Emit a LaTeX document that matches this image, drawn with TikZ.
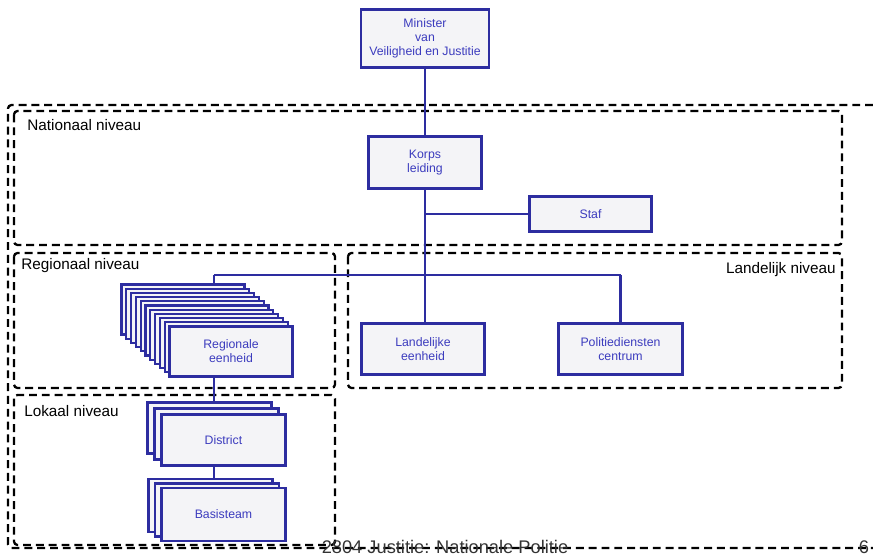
\documentclass[tikz,border=0pt]{standalone}
\usepackage{fontspec}
\setmainfont{Liberation Sans}
\usetikzlibrary{calc, positioning}

\definecolor{unitblue}{RGB}{45,45,160}
\definecolor{unittext}{RGB}{60,60,190}
\definecolor{unitfill}{RGB}{244,244,247}

\begin{document}
\begin{tikzpicture}
[
    x = 0.02cm, y = -0.02cm,
    every node/.style = {align = center, inner sep = 0pt},
    LevelFrame/.style = {draw, line width = 1.3pt, dash pattern = on 4.5pt off 2.8pt, rounded corners = 2pt},
    link/.style = {draw = unitblue, line width = 1.6pt}
  ]

  \tikzset{UnitStyle/.style = {rectangle,
                               draw       = unitblue,
                               fill       = unitfill,
                               line width = 1.6pt,
                               text       = unittext,
                               font       = \fontsize{7}{8}\selectfont},
           CopyStyle/.style = {UnitStyle, line width = 1.2pt},
           LevelText/.style = {font = \fontsize{8.7}{10}\selectfont}}

  \useasboundingbox (0,0) rectangle (873,557);

  % niveaus
  \draw[LevelFrame] (873,105) -- (8,105) -- (8,548) -- (873,548);
  \draw[LevelFrame] (14,111) rectangle (842,245);
  \draw[LevelFrame] (14,253) rectangle (335,388);
  \draw[LevelFrame] (348,253) rectangle (842,388);
  \draw[LevelFrame] (14,395) rectangle (335,545);

  \node[LevelText, anchor = west](natlabel) at (27,125){Nationaal niveau};
  \node[LevelText, anchor = west](reglabel) at (21,266){Regionaal niveau};
  \node[LevelText, anchor = east](landlabel) at (836,270){Landelijk niveau};
  \node[LevelText, anchor = west](loklabel) at (24,411){Lokaal niveau};

  % eenheden
  \node[UnitStyle, minimum width = 2.56cm, minimum height = 1.16cm](min) at (425,38.5){Minister\\van\\Veiligheid en Justitie};
  \node[UnitStyle, minimum width = 2.26cm, minimum height = 1.04cm](korps) at (425,162.5){Korps\\leiding};
  \node[UnitStyle, minimum width = 2.44cm, minimum height = 0.70cm](staf) at (590.5,214){Staf};
  \node[UnitStyle, minimum width = 2.46cm, minimum height = 1.02cm](le) at (423,349){Landelijke\\eenheid};
  \node[UnitStyle, minimum width = 2.48cm, minimum height = 1.02cm](pdc) at (620.5,349){Politiediensten\\centrum};

  \foreach \i in {10,...,1}
    \node[CopyStyle, minimum width = 2.46cm, minimum height = 1.0cm,
          xshift = {-\i*0.096cm}, yshift = {\i*0.084cm}](reg\i) at (231,351.5){};
  \node[UnitStyle, minimum width = 2.46cm, minimum height = 1.0cm](reg) at (231,351.5){Regionale\\eenheid};

  \foreach \i in {2,1}
    \node[CopyStyle, minimum width = 2.48cm, minimum height = 1.02cm,
          xshift = {-\i*0.14cm}, yshift = {\i*0.12cm}](dis\i) at (223.5,440){};
  \node[UnitStyle, minimum width = 2.48cm, minimum height = 1.02cm](dis) at (223.5,440){District};

  \foreach \i in {2,1}
    \node[CopyStyle, minimum width = 2.48cm, minimum height = 1.06cm,
          xshift = {-\i*0.13cm}, yshift = {\i*0.09cm}](bas\i) at (223.5,514.5){};
  \node[UnitStyle, minimum width = 2.48cm, minimum height = 1.06cm](bas) at (223.5,514.5){Basisteam};

  % lijnen
  \coordinate (stafjoin) at (korps |- staf);
  \coordinate (busL) at (214,275);
  \coordinate (busR) at (pdc |- busL);

  \draw[link](min) -- (korps);
  \draw[link](korps) -- (korps |- le.north);
  \draw[link](stafjoin) -- (staf);
  \draw[link](busL) -- (busR);
  \draw[link](busR) -- (pdc);
  \draw[link](busL) -- (busL |- reg10.north);
  \draw[link](busL |- reg.south) -- (busL |- dis2.north);
  \draw[link](busL |- dis.south) -- (busL |- bas2.north);

  \node[font = \fontsize{10.4}{12}\selectfont, text = black!80](foot) at (445,547){2804 Justitie: Nationale Politie};
  \node[font = \fontsize{10.4}{12}\selectfont, text = black!80](page) at (864,547){6};

\end{tikzpicture}
\end{document}
